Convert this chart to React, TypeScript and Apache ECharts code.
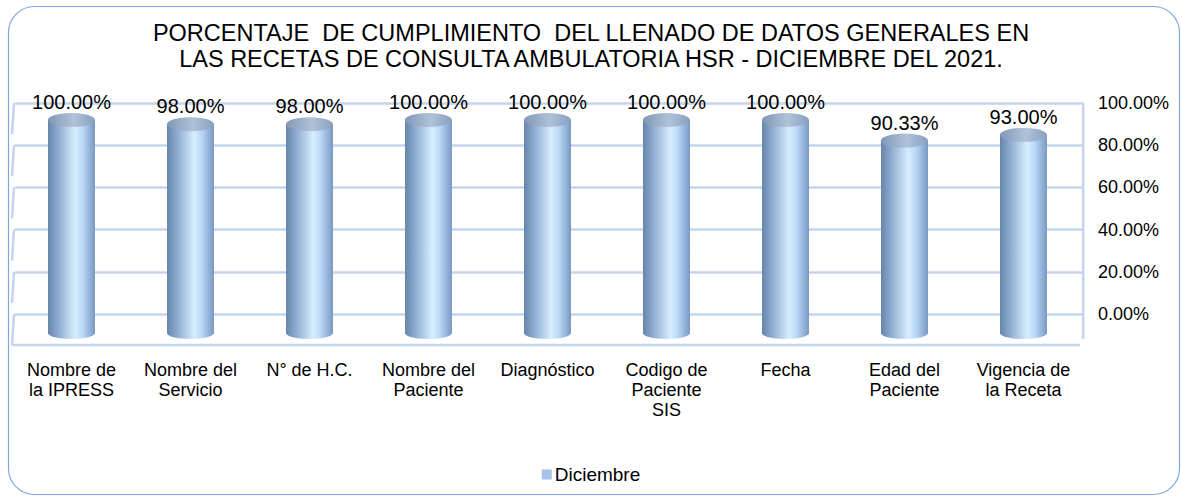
import React, { useEffect, useRef } from "react";
import * as echarts from "echarts";

const categories = [
  "Nombre de\nla IPRESS",
  "Nombre del\nServicio",
  "N° de H.C.",
  "Nombre del\nPaciente",
  "Diagnóstico",
  "Codigo de\nPaciente\nSIS",
  "Fecha",
  "Edad del\nPaciente",
  "Vigencia de\nla Receta",
];
const diciembre = [100, 98, 98, 100, 100, 100, 100, 90.33, 93];
const axisTicks = [0, 20, 40, 60, 80, 100];
const seriesName = "Diciembre";
const titleLines = [
  "PORCENTAJE  DE CUMPLIMIENTO  DEL LLENADO DE DATOS GENERALES EN",
  "LAS RECETAS DE CONSULTA AMBULATORIA HSR - DICIEMBRE DEL 2021.",
];

const FONT = "'Liberation Sans', Arial, sans-serif";
const GRID_COLOR = "#C4D5EB";

export default function App() {
  const ref = useRef<HTMLDivElement>(null);
  useEffect(() => {
    if (!ref.current) return;
    const chart = echarts.init(ref.current, undefined, { renderer: "svg" });
    const bodyGradient = new echarts.graphic.LinearGradient(0, 0, 1, 0, [
      { offset: 0, color: "#6784AA" },
      { offset: 0.2, color: "#8BA8CE" },
      { offset: 0.58, color: "#D6EEFF" },
      { offset: 0.74, color: "#BAD7F6" },
      { offset: 1, color: "#7998C2" },
    ]);
    const topGradient = new echarts.graphic.LinearGradient(0, 0, 1, 0, [
      { offset: 0, color: "#7F97B6" },
      { offset: 0.55, color: "#B0C2D8" },
      { offset: 1, color: "#889FBE" },
    ]);
    const option: any = {
      animation: false,
      backgroundColor: "#ffffff",
      textStyle: { fontFamily: FONT },
      title: {
        text: titleLines.join("\n"),
        left: "center",
        top: 15,
        textStyle: {
          fontFamily: FONT,
          fontSize: 23.5,
          lineHeight: 26,
          fontWeight: "normal",
          color: "#000",
        },
      },
      legend: {
        data: [{ name: seriesName, itemStyle: { color: "#A6C2E8" } }],
        left: "center",
        top: 465,
        padding: 0,
        itemWidth: 10,
        itemHeight: 10,
        itemGap: 4,
        icon: "rect",
        textStyle: { fontFamily: FONT, fontSize: 19, color: "#000", padding: [0, 0, 0, -2] },
      },
      grid: [
        { left: 15, right: 99, top: 103, height: 211 },
        { left: 12, right: 99, top: 120, height: 213 },
      ],
      xAxis: [
        { gridIndex: 0, type: "category", data: categories, show: false },
        {
          gridIndex: 1,
          type: "category",
          data: categories,
          axisLine: { show: false },
          axisTick: { show: false },
          axisLabel: {
            interval: 0,
            margin: 27,
            fontFamily: FONT,
            fontSize: 18,
            lineHeight: 20,
            color: "#000",
            align: "center",
          },
        },
      ],
      yAxis: [
        {
          gridIndex: 0,
          type: "value",
          position: "right",
          min: axisTicks[0],
          max: axisTicks[axisTicks.length - 1],
          interval: 20,
          axisLine: { show: false },
          axisTick: { show: false },
          axisLabel: {
            margin: 15,
            fontFamily: FONT,
            fontSize: 18,
            color: "#000",
            formatter: (v: number) => v.toFixed(2) + "%",
          },
          splitLine: { lineStyle: { color: GRID_COLOR, width: 2.5 } },
        },
        {
          gridIndex: 1,
          type: "value",
          min: 0,
          max: 100,
          show: false,
          splitLine: { show: false },
        },
      ],
      series: [
        {
          name: seriesName,
          type: "bar",
          xAxisIndex: 1,
          yAxisIndex: 1,
          data: diciembre,
          barWidth: 47,
          z: 3,
          itemStyle: { color: bodyGradient },
          label: {
            show: true,
            position: "top",
            distance: 8,
            fontFamily: FONT,
            fontSize: 20,
            color: "#000",
            formatter: (p: any) => Number(p.value).toFixed(2) + "%",
          },
        },
        {
          name: "base",
          type: "pictorialBar",
          xAxisIndex: 1,
          yAxisIndex: 1,
          data: diciembre,
          symbol: "circle",
          symbolSize: [47, 12],
          symbolPosition: "start",
          symbolOffset: [0, "50%"],
          z: 2,
          itemStyle: { color: bodyGradient },
          silent: true,
        },
        {
          name: "tapa",
          type: "pictorialBar",
          xAxisIndex: 1,
          yAxisIndex: 1,
          data: diciembre,
          symbol: "circle",
          symbolSize: [47, 14],
          symbolPosition: "end",
          symbolOffset: [0, "-50%"],
          z: 4,
          itemStyle: { color: topGradient },
          silent: true,
        },
      ],
    };
    chart.setOption(option);

    // decorative 3D walls: side wall, floor front edge, right edge, border
    const graphics: any[] = [];
    const backLeft = 14;
    const frontLeft = 12;
    const depth = 31;
    const rightX = chart.convertToPixel({ xAxisIndex: 0 }, categories[categories.length - 1]) + 59.5;
    axisTicks.forEach((t) => {
      const y = chart.convertToPixel({ yAxisIndex: 0 }, t) as number;
      graphics.push({
        type: "line",
        shape: { x1: backLeft, y1: y, x2: frontLeft, y2: y + depth },
        style: { stroke: GRID_COLOR, lineWidth: 2.5 },
        z: 0,
      });
    });
    const y0 = chart.convertToPixel({ yAxisIndex: 0 }, 0) as number;
    const y100 = chart.convertToPixel({ yAxisIndex: 0 }, 100) as number;
    graphics.push({
      type: "line",
      shape: { x1: frontLeft, y1: y0 + depth, x2: rightX - 3, y2: y0 + depth },
      style: { stroke: GRID_COLOR, lineWidth: 2.5 },
      z: 0,
    });
    graphics.push({
      type: "line",
      shape: { x1: rightX, y1: y100, x2: rightX, y2: y0 + depth - 6 },
      style: { stroke: GRID_COLOR, lineWidth: 2.5 },
      z: 0,
    });
    graphics.push({
      type: "rect",
      shape: { x: 8.5, y: 6.5, width: 1171, height: 488, r: 26 },
      style: { stroke: "#7FA7DB", fill: "none", lineWidth: 1.2 },
      z: 0,
      silent: true,
    });
    chart.setOption({ graphic: graphics });

    return () => chart.dispose();
  }, []);
  return (
    <div
      ref={ref}
      style={{ position: "fixed", left: 0, top: 0, width: 1182, height: 497 }}
    />
  );
}
